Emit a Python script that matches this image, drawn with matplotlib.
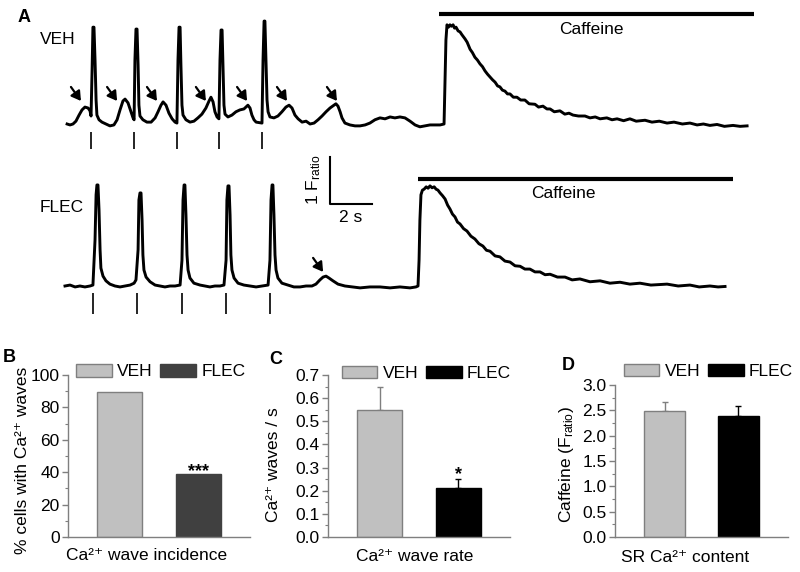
import numpy as np
import matplotlib.pyplot as plt
from matplotlib.ticker import MultipleLocator, FormatStrFormatter

plt.rcParams['font.family'] = ['Liberation Sans', 'DejaVu Sans']
plt.rcParams['mathtext.fontset'] = 'custom'
plt.rcParams['mathtext.rm'] = 'Liberation Sans'
plt.rcParams['mathtext.it'] = 'Liberation Sans:italic'
plt.rcParams['mathtext.bf'] = 'Liberation Sans:bold'

# -----------------------
# Panel A: Ca2+ traces (time in s, F_ratio)
# -----------------------
veh_time = [0.10, 0.24, 0.38, 0.52, 0.67, 0.81, 0.95, 1.10, 1.19, 1.24, 1.29, 1.33, 1.38, 1.43,
            1.48, 1.52, 1.62, 1.76, 1.95, 2.14, 2.33, 2.48, 2.62, 2.76, 2.86, 3.00, 3.14, 3.24,
            3.29, 3.33, 3.38, 3.43, 3.48, 3.52, 3.57, 3.71, 3.90, 4.10, 4.29, 4.43, 4.57, 4.67,
            4.81, 4.95, 5.10, 5.24, 5.33, 5.38, 5.43, 5.48, 5.52, 5.57, 5.62, 5.76, 5.95, 6.14,
            6.33, 6.52, 6.71, 6.86, 6.95, 7.05, 7.14, 7.24, 7.33, 7.38, 7.43, 7.48, 7.52, 7.57,
            7.62, 7.76, 7.95, 8.14, 8.33, 8.52, 8.71, 8.81, 8.90, 9.00, 9.10, 9.38, 9.43, 9.48,
            9.52, 9.57, 9.62, 9.67, 9.76, 9.95, 10.14, 10.33, 10.52, 10.67, 10.81, 10.95, 11.10,
            11.29, 11.48, 11.67, 11.86, 12.05, 12.24, 12.43, 12.62, 12.81, 12.90, 13.00, 13.10,
            13.19, 13.33, 13.57, 13.81, 14.05, 14.29, 14.52, 14.76, 15.00, 15.24, 15.48, 15.71,
            15.95, 16.19, 16.43, 16.67, 16.90, 17.14, 17.38, 17.62, 17.86, 18.05, 18.10, 18.14,
            18.19, 18.26, 18.33, 18.40, 18.48, 18.55, 18.62, 18.72, 18.81, 18.90, 19.05, 19.15,
            19.29, 19.40, 19.52, 19.64, 19.76, 19.88, 20.00, 20.12, 20.24, 20.36, 20.48, 20.60,
            20.71, 20.83, 20.95, 21.07, 21.19, 21.35, 21.52, 21.70, 21.90, 22.10, 22.38, 22.55,
            22.76, 22.95, 23.10, 23.30, 23.57, 23.80, 24.00, 24.19, 24.45, 24.76, 25.00, 25.25,
            25.48, 25.80, 26.05, 26.29, 26.60, 26.90, 27.20, 27.62, 27.95, 28.30, 28.67, 29.00,
            29.40, 29.76, 30.10, 30.40, 30.71, 31.05, 31.40, 31.81, 32.15, 32.48]
veh_fratio = [1.00, 0.98, 1.00, 1.06, 1.19, 1.30, 1.36, 1.34, 1.28, 1.17, 2.15, 3.06, 3.06, 2.36,
              1.51, 1.19, 1.09, 1.04, 1.00, 0.96, 0.98, 1.09, 1.30, 1.49, 1.53, 1.45, 1.26, 1.13,
              1.09, 2.36, 3.02, 3.02, 2.26, 1.40, 1.17, 1.09, 1.04, 1.04, 1.13, 1.26, 1.40, 1.47,
              1.40, 1.23, 1.11, 1.04, 1.02, 2.36, 3.06, 3.06, 2.26, 1.40, 1.19, 1.09, 1.04, 1.06,
              1.13, 1.21, 1.34, 1.49, 1.57, 1.47, 1.26, 1.15, 1.11, 2.36, 3.00, 3.00, 2.26, 1.40,
              1.21, 1.15, 1.19, 1.26, 1.30, 1.32, 1.40, 1.34, 1.19, 1.09, 1.04, 1.02, 2.36, 3.19,
              3.19, 2.36, 1.51, 1.26, 1.15, 1.13, 1.17, 1.26, 1.36, 1.40, 1.34, 1.19, 1.11,
              1.04, 1.06, 1.00, 1.02, 1.09, 1.17, 1.26, 1.34, 1.40, 1.43, 1.38, 1.26,
              1.13, 1.02, 0.98, 0.96, 0.96, 0.98, 1.02, 1.09, 1.13, 1.11, 1.15, 1.13,
              1.15, 1.13, 1.06, 0.98, 0.94, 0.96, 0.98, 0.98, 0.98, 1.00, 1.94, 2.79,
              3.11, 3.06, 3.11, 3.08, 3.11, 3.04, 3.06, 2.98, 2.96, 2.90, 2.81, 2.74,
              2.59, 2.52, 2.42, 2.36, 2.28, 2.22, 2.13, 2.06, 2.00, 1.94, 1.89, 1.81,
              1.79, 1.72, 1.70, 1.64, 1.64, 1.57, 1.57, 1.51, 1.51, 1.43, 1.42, 1.36,
              1.38, 1.32, 1.32, 1.26, 1.28, 1.21, 1.23, 1.19, 1.17, 1.17, 1.13, 1.15,
              1.11, 1.13, 1.09, 1.11, 1.07, 1.11, 1.06, 1.08, 1.04, 1.06, 1.02, 1.04,
              1.00, 1.02, 0.98, 1.00, 0.97, 0.99, 0.95, 0.97, 0.95, 0.96]

flec_time = [0.00, 0.24, 0.48, 0.71, 0.95, 1.19, 1.33, 1.43, 1.48, 1.52, 1.57, 1.62, 1.67, 1.71,
             1.81, 1.95, 2.14, 2.38, 2.62, 2.86, 3.10, 3.29, 3.38, 3.48, 3.52, 3.57, 3.62, 3.67,
             3.71, 3.76, 3.86, 4.05, 4.29, 4.52, 4.76, 5.00, 5.24, 5.48, 5.57, 5.62, 5.67, 5.71,
             5.76, 5.81, 5.86, 5.95, 6.14, 6.43, 6.67, 6.90, 7.14, 7.38, 7.57, 7.67, 7.71, 7.76,
             7.81, 7.86, 7.90, 7.95, 8.05, 8.24, 8.52, 8.81, 9.10, 9.38, 9.67, 9.76, 9.81, 9.86,
             9.90, 9.95, 10.00, 10.05, 10.14, 10.33, 10.62, 10.90, 11.19, 11.48, 11.76, 11.95,
             12.14, 12.29, 12.43, 12.57, 12.76, 13.00, 13.33, 13.67, 14.05, 14.52, 15.00, 15.48,
             15.95, 16.43, 16.71, 16.81, 16.86, 16.90, 16.95, 17.02, 17.10, 17.20, 17.29, 17.38,
             17.48, 17.58, 17.67, 17.76, 17.86, 17.98, 18.10, 18.22, 18.33, 18.45, 18.57, 18.69,
             18.81, 18.98, 19.14, 19.33, 19.52, 19.71, 19.90, 20.07, 20.24, 20.48, 20.71, 20.95,
             21.19, 21.43, 21.67, 21.90, 22.14, 22.38, 22.62, 22.86, 23.10, 23.45, 23.81, 24.15,
             24.52, 25.00, 25.48, 25.95, 26.43, 26.90, 27.38, 27.90, 28.67, 29.20, 29.76, 30.20,
             30.71, 31.10, 31.43]
flec_fratio = [1.00, 1.02, 0.98, 1.00, 0.98, 1.00, 1.02, 1.98, 2.94, 3.15, 3.15, 2.62, 1.77, 1.38,
               1.21, 1.11, 1.04, 1.00, 0.98, 1.00, 1.02, 1.06, 1.13, 1.77, 2.83, 2.98, 2.98, 2.40,
               1.66, 1.34, 1.19, 1.09, 1.02, 1.00, 0.98, 1.00, 1.00, 1.02, 1.55, 2.83, 3.15, 3.15,
               2.51, 1.66, 1.34, 1.17, 1.06, 1.02, 1.00, 0.98, 1.00, 1.00, 1.02, 1.55, 2.83, 3.13,
               3.13, 2.51, 1.66, 1.34, 1.17, 1.06, 1.02, 1.00, 0.98, 1.00, 1.02, 1.55, 2.83, 3.15,
               3.15, 2.51, 1.66, 1.34, 1.17, 1.06, 1.02, 0.98, 0.98, 1.00, 1.00, 1.04,
               1.13, 1.19, 1.21, 1.17, 1.11, 1.04, 1.00, 0.98, 0.96, 0.98, 0.98, 0.96,
               0.98, 0.96, 0.98, 1.00, 1.55, 2.40, 2.94, 3.04, 3.06, 3.11, 3.08, 3.13,
               3.09, 3.11, 3.06, 3.04, 2.98, 2.92, 2.85, 2.72, 2.64, 2.53, 2.47, 2.36,
               2.32, 2.22, 2.17, 2.06, 2.00, 1.90, 1.85, 1.76, 1.74, 1.64, 1.62, 1.53,
               1.51, 1.43, 1.42, 1.36, 1.36, 1.30, 1.30, 1.24, 1.25, 1.19, 1.19, 1.13,
               1.15, 1.09, 1.11, 1.06, 1.08, 1.04, 1.06, 1.02, 1.04, 1.00, 1.02, 0.98,
               1.00, 0.98, 0.99]

# field stimulation times (s)
veh_stim = [1.24, 3.29, 5.33, 7.33, 9.38]
flec_stim = [1.33, 3.43, 5.57, 7.67, 9.76]

# spontaneous Ca2+ waves (arrow tips: time, F_ratio)
veh_wave_t = [0.76, 2.48, 4.38, 6.71, 8.67, 10.57, 12.95]
veh_wave_f = [1.49, 1.49, 1.49, 1.49, 1.49, 1.49, 1.49]
flec_wave_t = [12.29]
flec_wave_f = [1.30]

# caffeine application (s)
veh_caff = (17.8, 32.8)
flec_caff = (16.8, 31.8)

# scale bar
SCALE_T = 2      # s
SCALE_F = 1      # F_ratio

# -----------------------
# Panels B-D
# -----------------------
groups = ["VEH", "FLEC"]
wave_incidence = [89.5, 38.8]
wave_rate = [0.55, 0.21]
wave_rate_sem = [0.10, 0.04]
sr_content = [2.49, 2.39]
sr_content_sem = [0.17, 0.20]

W, H = 800, 572
fig = plt.figure(figsize=(W / 100, H / 100), dpi=100)


def fxy(px, py):
    return px / W, 1 - py / H


# Panel A axes, calibrated from the scale bar: 21 px per s, 47 px per F_ratio
PX_S, PX_F = 21.0, 47.0
A_BOTTOM = 330
T0_PX = 65
FLEC_BASE_PX = 286
VEH_SHIFT = (286 - 124) / PX_F

axA = fig.add_axes([0, 1 - A_BOTTOM / H, 1, A_BOTTOM / H])
axA.set_xlim(-T0_PX / PX_S, (W - T0_PX) / PX_S)
axA.set_ylim(1 - (A_BOTTOM - FLEC_BASE_PX) / PX_F, 1 + FLEC_BASE_PX / PX_F)
axA.axis("off")


def axy(px, py):
    return (px - T0_PX) / PX_S, 1 + (FLEC_BASE_PX - py) / PX_F


LW = 2.1
axA.plot(veh_time, np.array(veh_fratio) + VEH_SHIFT, color="black", lw=LW,
         solid_joinstyle="round")
axA.plot(flec_time, flec_fratio, color="black", lw=LW, solid_joinstyle="round")

axA.vlines(veh_stim, axy(0, 149)[1], axy(0, 132)[1], color="black", lw=1.2)
axA.vlines(flec_stim, axy(0, 314)[1], axy(0, 293)[1], color="black", lw=1.2)

arrow_kw = dict(arrowstyle="-|>,head_length=0.5,head_width=0.3", color="black",
                lw=1.6, mutation_scale=11, shrinkA=0, shrinkB=0)
ARR_DX, ARR_DY = 10 / PX_S, 14 / PX_F
for t, f in zip(veh_wave_t, veh_wave_f):
    axA.annotate("", xy=(t, f + VEH_SHIFT), xytext=(t - ARR_DX, f + VEH_SHIFT + ARR_DY),
                 arrowprops=arrow_kw)
for t, f in zip(flec_wave_t, flec_wave_f):
    axA.annotate("", xy=(t, f), xytext=(t - ARR_DX, f + ARR_DY), arrowprops=arrow_kw)

# caffeine bars
axA.hlines(axy(0, 14)[1], *veh_caff, color="black", lw=3)
axA.hlines(axy(0, 179)[1], *flec_caff, color="black", lw=3)
axA.text(*axy(591, 29), "Caffeine", ha="center", va="center", fontsize=12.5)
axA.text(*axy(563, 193), "Caffeine", ha="center", va="center", fontsize=12.5)

# scale bar
sx, sy = axy(330, 204)
axA.plot([sx, sx, sx + SCALE_T], [sy + SCALE_F, sy, sy], color="black", lw=1.5)
axA.text(*axy(314, 180), r"1 F$_{\mathregular{ratio}}$", rotation=90, ha="center",
         va="center", fontsize=12.5)
axA.text(*axy(351, 217), "2 s", ha="center", va="center", fontsize=12.5)

fig.text(*fxy(40, 39), "VEH", ha="left", va="center", fontsize=12.5)
fig.text(*fxy(40, 207), "FLEC", ha="left", va="center", fontsize=12.5)

# panel letters
fig.text(*fxy(18, 17), "A", ha="left", va="center", fontsize=13, fontweight="bold")
fig.text(*fxy(3, 357), "B", ha="left", va="center", fontsize=13, fontweight="bold")
fig.text(*fxy(269, 359), "C", ha="left", va="center", fontsize=13, fontweight="bold")
fig.text(*fxy(562, 365), "D", ha="left", va="center", fontsize=13, fontweight="bold")

GRAY = "#7f7f7f"
VEH_COLOR = "#c0c0c0"
FS = 12.5


def bar_axes(left, right, top):
    x0, y0 = fxy(left, 537)
    x1, y1 = fxy(right, top)
    return fig.add_axes([x0, y0, x1 - x0, y1 - y0])


def style(ax, ymax, major, minor, fmt, xlim):
    ax.set_ylim(0, ymax)
    ax.set_xlim(*xlim)
    ax.yaxis.set_major_locator(MultipleLocator(major))
    ax.yaxis.set_minor_locator(MultipleLocator(minor))
    ax.yaxis.set_major_formatter(FormatStrFormatter(fmt))
    ax.set_xticks([])
    for s in ["top", "right"]:
        ax.spines[s].set_visible(False)
    for s in ["left", "bottom"]:
        ax.spines[s].set_color(GRAY)
        ax.spines[s].set_linewidth(1.0)
    ax.tick_params(axis="y", which="major", length=4, width=1, color=GRAY,
                   labelsize=FS, pad=2)
    ax.tick_params(axis="y", which="minor", length=2, width=0.8, color=GRAY)


def draw_bars(ax, vals, sems, flec_color, width):
    colors = [VEH_COLOR, flec_color]
    edges = [GRAY, flec_color]
    for i, (g, v) in enumerate(zip(groups, vals)):
        ax.bar(i, v, width=width, color=colors[i], edgecolor=edges[i], linewidth=1,
               label=g, zorder=2)
        if sems is not None:
            ax.errorbar(i, v, yerr=[[0], [sems[i]]], fmt="none", ecolor=edges[i],
                        elinewidth=1, capsize=2.5, capthick=1, zorder=1)


def legend(ax, bx, by):
    ax.legend(ncol=2, loc="center", bbox_to_anchor=(bx, by), frameon=False,
              handlelength=2.05, handleheight=0.75, handletextpad=0.3, columnspacing=0.45,
              fontsize=FS, borderaxespad=0, borderpad=0)


# B
axB = bar_axes(68, 250, 375)
draw_bars(axB, wave_incidence, None, "#404040", 0.575)
style(axB, 100, 20, 10, "%d", (-0.66, 1.66))
legend(axB, 0.51, 1.02)
axB.text(1, wave_incidence[1] - 3.5, "***", ha="center", va="bottom", fontsize=13,
         fontweight="bold")
axB.text(-0.25, 0.47, "% cells with Ca²⁺ waves", rotation=90,
         ha="center", va="center", fontsize=FS, transform=axB.transAxes)
axB.text(0.434, -0.117, "Ca²⁺ wave incidence", ha="center", va="center",
         fontsize=FS, transform=axB.transAxes)

# C
axC = bar_axes(328, 510, 375)
draw_bars(axC, wave_rate, wave_rate_sem, "black", 0.575)
style(axC, 0.7, 0.1, 0.05, "%.1f", (-0.66, 1.66))
legend(axC, 0.54, 1.01)
axC.text(1, wave_rate[1] + wave_rate_sem[1] - 0.018, "*", ha="center", va="bottom",
         fontsize=13, fontweight="bold")
axC.text(-0.297, 0.444, "Ca²⁺ waves / s", rotation=90, ha="center",
         va="center", fontsize=FS, transform=axC.transAxes)
axC.text(0.478, -0.123, "Ca²⁺ wave rate", ha="center", va="center",
         fontsize=FS, transform=axC.transAxes)

# D
axD = bar_axes(615, 788, 385)
draw_bars(axD, sr_content, sr_content_sem, "black", 0.554)
style(axD, 3.0, 0.5, 0.25, "%.1f", (-0.67, 1.67))
legend(axD, 0.54, 1.09)
axD.text(-0.28, 0.474, r"Caffeine (F$_{\mathregular{ratio}}$)", rotation=90, ha="center",
         va="center", fontsize=FS, transform=axD.transAxes)
axD.text(0.405, -0.132, "SR Ca²⁺ content", ha="center", va="center",
         fontsize=FS, transform=axD.transAxes)

fig.savefig("out.png", dpi=100)
plt.close(fig)
